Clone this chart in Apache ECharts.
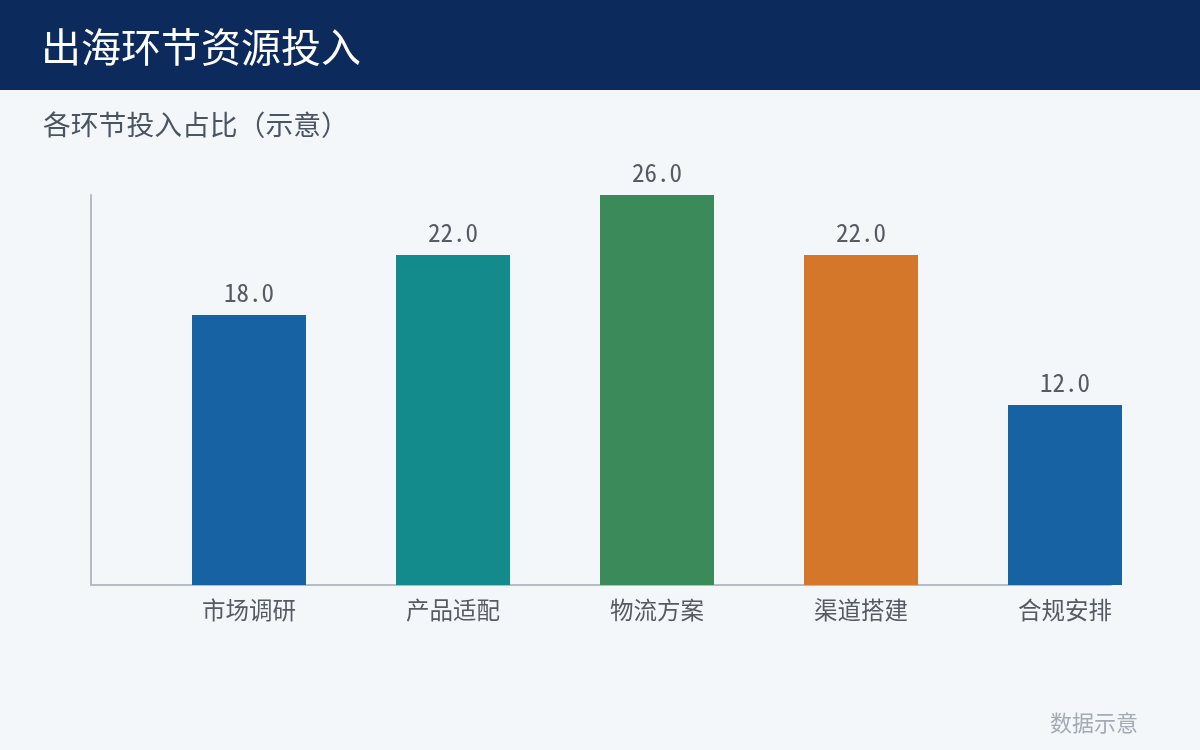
<!DOCTYPE html>
<html><head><meta charset="utf-8">
<script src="https://cdn.jsdelivr.net/npm/echarts@6/dist/echarts.min.js"></script>
<style>html,body{margin:0;padding:0;background:#f4f7fa}#c{width:1200px;height:750px}</style>
</head><body><div id="c"></div>
<script>
const categories = ['市场调研', '产品适配', '物流方案', '渠道搭建', '合规安排'];
const values = [18, 22, 26, 22, 12];
const barColors = ['#1762a3', '#138a8c', '#3b8b5a', '#d4772a', '#1762a3'];
const titleText = '出海环节资源投入';
const subtitleText = '各环节投入占比（示意）';
const footnoteText = '数据示意';

const chart = echarts.init(document.getElementById('c'));
const axisColor = '#b3bcc7';
chart.setOption({
  backgroundColor: '#f4f7fa',
  animation: false,
  graphic: [
    { type: 'rect', left: 0, top: 0, shape: { width: 1200, height: 90 }, style: { fill: '#0d2a5c' }, z: -1 }
  ],
  title: [
    { text: titleText, left: 36, top: 22, textStyle: { color: '#ffffff', fontSize: 40, fontWeight: 'normal', fontFamily: 'Noto Sans CJK SC' } },
    { text: subtitleText, left: 38, top: 106, textStyle: { color: '#4a5563', fontSize: 27.8, fontWeight: 'normal', fontFamily: 'Noto Sans CJK SC' } },
    { text: footnoteText, right: 57, top: 707, textStyle: { color: '#a3abb5', fontSize: 22, fontWeight: 'normal', fontFamily: 'Noto Sans CJK SC' } }
  ],
  grid: [
    { left: 147, right: 33, top: 195, bottom: 165 },
    { left: 91, right: 89, top: 195, bottom: 165 }
  ],
  xAxis: [
    { type: 'category', gridIndex: 0, data: categories,
      axisLine: { show: false }, axisTick: { show: false },
      axisLabel: { color: '#555b63', fontSize: 23.5, margin: 13, fontFamily: 'Noto Sans CJK SC' } },
    { type: 'value', gridIndex: 1, min: 0, max: 1,
      axisLine: { show: true, onZero: false, lineStyle: { color: axisColor, width: 2 } },
      axisTick: { show: false }, axisLabel: { show: false }, splitLine: { show: false } }
  ],
  yAxis: [
    { type: 'value', gridIndex: 0, min: 0, max: 26,
      axisLine: { show: false }, axisTick: { show: false }, axisLabel: { show: false }, splitLine: { show: false } },
    { type: 'value', gridIndex: 1, min: 0, max: 1,
      axisLine: { show: true, onZero: false, lineStyle: { color: axisColor, width: 2 } },
      axisTick: { show: false }, axisLabel: { show: false }, splitLine: { show: false } }
  ],
  series: [
    { type: 'bar', xAxisIndex: 0, yAxisIndex: 0, barWidth: 114,
      data: values.map((v, i) => ({ value: v, itemStyle: { color: barColors[i] } })),
      label: { show: true, position: 'top', distance: 10, color: '#555b63', fontSize: 25,
        fontFamily: 'Noto Sans Mono CJK SC, Noto Sans CJK SC, monospace',
        formatter: p => p.value.toFixed(1) } }
  ]
});
</script></body></html>
